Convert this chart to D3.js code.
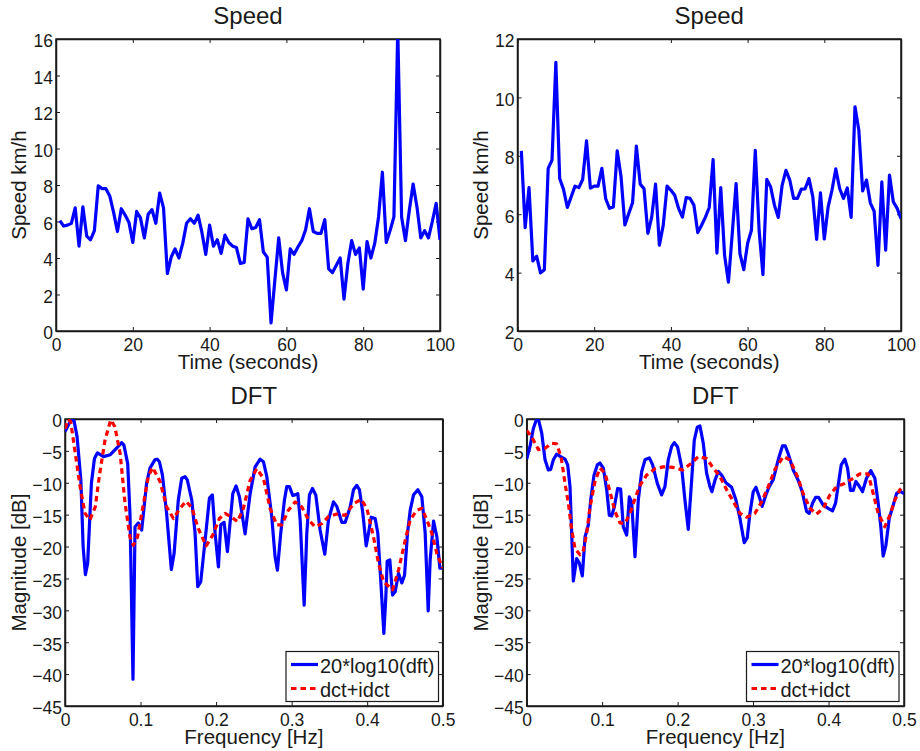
<!DOCTYPE html>
<html>
<head>
<meta charset="utf-8">
<script src="https://cdn.jsdelivr.net/npm/d3@7"></script>
<style>
html,body{margin:0;padding:0;background:#fff;}
svg{display:block;}
text{font-family:"Liberation Sans",Arial,sans-serif;fill:#1a1a1a;}
</style>
</head>
<body>
<div id="chart"></div>
<script>
// values

const speedLeft=[6.05,5.75,5.8,5.9,6.75,4.65,6.8,5.2,5.0,5.5,7.95,7.8,7.8,7.4,6.5,5.45,6.7,6.35,5.95,4.85,
6.55,6.2,5.1,6.4,6.65,5.9,7.55,6.75,3.15,4.05,4.5,4.0,4.8,5.9,6.15,5.9,6.35,5.4,4.2,5.8,
4.65,5.0,4.25,5.25,4.85,4.65,4.57,3.7,3.75,6.15,5.6,5.67,6.1,4.33,4.05,0.45,2.8,5.1,3.2,2.25,
4.5,4.2,4.6,4.95,5.55,6.7,5.45,5.35,5.35,6.1,3.4,3.2,3.6,4.0,1.75,3.7,4.95,4.2,4.55,2.3,
4.9,4.0,4.8,6.25,8.7,4.85,5.5,6.25,16.5,6.25,4.95,6.6,8.05,6.8,5.1,5.5,5.1,6.0,7.0,5.0];

const speedRight=[8.17,5.54,6.91,4.4,4.56,3.99,4.1,7.57,7.85,11.2,7.22,6.85,6.23,6.6,6.96,6.91,7.19,8.51,6.89,6.96,
6.96,7.57,6.53,6.2,6.25,8.17,7.28,5.63,6.02,6.39,8.33,7.03,6.87,5.34,5.9,7.03,4.94,5.62,6.96,6.82,
6.65,6.2,5.9,6.57,6.54,6.31,5.37,5.62,5.9,6.23,7.87,4.67,6.91,4.59,3.67,5.34,7.05,4.65,4.1,5.0,
5.45,8.19,5.45,3.93,7.19,6.94,6.31,5.89,6.99,7.5,7.17,6.54,6.54,6.86,6.87,7.22,6.6,5.14,6.73,5.15,
6.25,6.82,7.55,6.88,6.54,6.9,5.89,9.68,8.88,6.8,7.17,6.39,6.1,4.25,7.11,4.77,7.34,6.42,6.2,5.85];

const dftLeft=[[0,-2],[.005,-.8],[.01,0],[.012,-.3],[.016,-2.8],[.021,-9.6],[.024,-20],[.027,-24.4],[.03,-22.6],[.035,-10],
[.039,-6.2],[.043,-5.3],[.051,-5.9],[.06,-5.6],[.068,-4.6],[.075,-3.7],[.078,-4.1],[.083,-7],[.086,-14.8],[.09,-40.8],
[.0927,-16.9],[.097,-16.3],[.1015,-17.4],[.108,-10.1],[.1125,-7.7],[.119,-6.4],[.122,-6.3],[.125,-6.7],[.129,-8.8],[.1345,-14.8],
[.1408,-23.6],[.1444,-21.1],[.15,-12.7],[.1545,-9.3],[.159,-9.05],[.162,-9.6],[.1678,-12.7],[.1722,-17.9],[.1757,-26.3],[.1797,-25.5],
[.1855,-19],[.1912,-12.4],[.1951,-11.9],[.1987,-17.9],[.2031,-23.2],[.2062,-16.6],[.2106,-16.2],[.215,-20.8],[.2221,-11.7],[.2265,-10.5],
[.2309,-12.2],[.2384,-18],[.2451,-11.7],[.2517,-7.5],[.2583,-6.3],[.2627,-6.7],[.2671,-9],[.2737,-15.3],[.2781,-21.6],[.2812,-23.7],
[.2856,-17.9],[.2905,-12.7],[.2936,-10.6],[.2971,-10.6],[.3015,-12],[.3046,-11.9],[.3082,-11.7],[.3113,-15.8],[.3166,-29.2],[.3201,-17.9],
[.3236,-11.9],[.3276,-10.9],[.332,-11.9],[.3377,-17.4],[.3439,-21.2],[.3488,-15.8],[.3554,-13],[.3598,-13.7],[.3664,-16.2],[.3709,-16.2],
[.3775,-13.8],[.3819,-11.1],[.3863,-10.4],[.3898,-11.1],[.3943,-14.8],[.3987,-19.9],[.4018,-17.9],[.4053,-15.4],[.4106,-15.6],[.4141,-17.9],
[.4177,-24.7],[.4221,-33.6],[.4247,-27.9],[.4265,-22.3],[.43,-22.1],[.4336,-27.6],[.4371,-27.1],[.4415,-24.2],[.4459,-25.7],[.4495,-24.5],
[.4534,-17.9],[.457,-14.3],[.4614,-11.9],[.4671,-11.1],[.4724,-12.2],[.4768,-17.9],[.4808,-30.1],[.4834,-22.1],[.4879,-16],[.4923,-18.5],
[.4963,-23.4],[.5,-23.4]];

const idctLeft=[[0,-1.5],[.0044,-.1],[.0075,-.4],[.013,-4.9],[.02,-10.6],[.0265,-14.8],[.033,-15.8],[.04,-13.8],[.046,-8.5],[.053,-3.3],
[.0605,-.15],[.066,-1.2],[.073,-5.4],[.0795,-13.2],[.086,-18.5],[.0905,-19.8],[.096,-18.5],[.104,-13.2],[.1103,-9],[.116,-7.6],
[.1258,-9.8],[.1347,-13.8],[.1435,-15.6],[.1523,-14],[.1603,-12.9],[.1678,-13.9],[.1766,-17.2],[.1868,-19.9],[.1956,-18.2],[.2044,-15.6],
[.2119,-14.8],[.2208,-15.4],[.2283,-16.1],[.2362,-14],[.2451,-9.6],[.2539,-7.8],[.2627,-9.3],[.2715,-14],[.2804,-16.6],[.287,-16.6],
[.2958,-14.3],[.3046,-13],[.3135,-13.8],[.3223,-15.8],[.3311,-16.9],[.34,-16.4],[.3488,-15.3],[.3598,-14.9],[.3709,-15.1],[.3819,-13.3],
[.3921,-12.6],[.3996,-14],[.4084,-18.5],[.415,-22.6],[.4217,-25.5],[.4336,-26.8],[.4415,-23.7],[.4504,-19],[.457,-15.8],[.4658,-14.3],
[.4724,-14],[.479,-15.8],[.4856,-17.9],[.4923,-21.1],[.5,-23.4]];

const dftRight=[[0,-6.3],[.0044,-4.3],[.0088,-1.5],[.0132,0],[.0159,-.2],[.0199,-2.2],[.0243,-6.4],[.0287,-8],[.0318,-7.9],[.0353,-6.4],
[.0397,-5.5],[.045,-5.9],[.0508,-6.3],[.0543,-7.2],[.0574,-10.6],[.0596,-17.9],[.0618,-25.4],[.0662,-21.9],[.0698,-22.6],[.0737,-24.6],
[.0773,-18.5],[.0817,-16.6],[.0848,-12.7],[.0892,-8.8],[.0936,-7.2],[.0971,-6.9],[.1015,-7.7],[.106,-11.1],[.1095,-15.1],[.1126,-15.2],
[.1161,-13.8],[.1205,-10.9],[.1245,-11],[.128,-16.9],[.1325,-18.2],[.136,-12.2],[.1391,-13],[.1435,-21.6],[.1479,-12.7],[.1523,-8.3],
[.1567,-6.4],[.1625,-6.1],[.1669,-7.2],[.1731,-10.1],[.1788,-11.9],[.1832,-10.6],[.1876,-6.4],[.1921,-4.3],[.1956,-3.7],[.2,-4.4],
[.2053,-7.5],[.2097,-12.7],[.2141,-17.3],[.2186,-9.6],[.2221,-3.3],[.226,-1.3],[.2296,-1.1],[.234,-3.8],[.2384,-8.5],[.2428,-10.6],
[.2455,-11.4],[.2495,-9.6],[.2539,-8.2],[.2583,-8.8],[.264,-10],[.2715,-10.7],[.2773,-12.7],[.2826,-15.6],[.2883,-19.4],[.2923,-18.6],
[.2958,-14.8],[.3002,-11.4],[.3038,-10.7],[.3082,-12.2],[.3121,-13.7],[.317,-11.9],[.3214,-10.6],[.3267,-9.5],[.3333,-6.4],[.339,-4.2],
[.3426,-4.2],[.347,-5.6],[.3532,-8],[.3598,-9.6],[.3651,-11.4],[.3709,-14.5],[.3744,-14.8],[.3788,-13.2],[.3828,-12.3],[.3868,-12.3],
[.393,-13.5],[.3996,-14],[.4053,-14.4],[.4093,-13.2],[.4128,-10.4],[.4168,-7.2],[.4216,-6.3],[.4252,-7.7],[.4291,-11.2],[.4327,-11.2],
[.4362,-9.8],[.4406,-10.5],[.445,-11.4],[.4503,-9.3],[.4561,-8.1],[.4614,-9.3],[.4658,-13.2],[.4693,-16.9],[.4724,-21.5],[.476,-19.8],
[.4804,-15.6],[.4857,-13.5],[.4901,-11.7],[.4945,-11.3],[.5,-11.7]];

const idctRight=[[0,-1.8],[.0066,-2.8],[.0155,-4.8],[.0243,-4.6],[.0331,-3.8],[.0397,-3.9],[.0455,-5.9],[.0508,-10.1],[.0552,-13.2],[.0596,-17.4],
[.064,-20.3],[.0706,-21.3],[.0751,-20.6],[.0795,-17.9],[.0839,-13.8],[.0905,-9.8],[.0971,-7.7],[.1038,-8.5],[.1104,-11.4],[.117,-14.5],
[.1236,-16.3],[.1302,-16.4],[.1369,-14.8],[.1435,-12.5],[.1501,-10.4],[.1589,-8.8],[.17,-7.8],[.181,-7.5],[.1943,-7.6],[.2066,-8],
[.2186,-6.9],[.2274,-5.9],[.2384,-6.2],[.2473,-7.7],[.2561,-9],[.265,-11.1],[.2737,-12.9],[.2826,-14.8],[.2914,-15.4],[.3024,-14.8],
[.3113,-13],[.3201,-10.6],[.3289,-7.9],[.34,-5.9],[.3488,-6.4],[.3598,-9.3],[.3664,-11.7],[.3753,-14],[.3841,-14.9],[.393,-14],
[.4018,-11.9],[.4106,-10.6],[.4216,-10.1],[.4327,-9.3],[.4415,-8.6],[.4525,-8.6],[.4592,-11.7],[.4658,-14.8],[.4746,-16.9],[.4812,-15.1],
[.4879,-12.7],[.4945,-11.1],[.5,-10.6]];

const timeTicks=[0,20,40,60,80,100];
const speedLeftTicks=[0,2,4,6,8,10,12,14,16];
const speedRightTicks=[2,4,6,8,10,12];
const freqTicks=[0,.1,.2,.3,.4,.5];
const dbTicks=[-45,-40,-35,-30,-25,-20,-15,-10,-5,0];
const legendLabels=["20*log10(dft)","dct+idct"];

const BLUE="#0000ff";
const RED="#ff0000";
const DARK="#1a1a1a";

const svg=d3.select("#chart").append("svg").attr("width",920).attr("height",751);
let clipCount=0;

function drawPanel(p){
  const x=d3.scaleLinear().domain(p.xDomain).range([p.left,p.right]);
  const y=d3.scaleLinear().domain(p.yDomain).range([p.bottom,p.top]);
  const g=svg.append("g");

  const clipId="clip"+(clipCount++);
  g.append("clipPath").attr("id",clipId).append("rect")
    .attr("x",p.left).attr("y",p.top)
    .attr("width",p.right-p.left).attr("height",p.bottom-p.top);

  // box, inward ticks on all sides like matlab
  g.append("rect")
    .attr("x",p.left).attr("y",p.top)
    .attr("width",p.right-p.left).attr("height",p.bottom-p.top)
    .attr("fill","none").attr("stroke",DARK).attr("stroke-width",1.5);

  const bottomAxis=g.append("g").attr("transform","translate(0,"+p.bottom+")")
    .call(d3.axisBottom(x).tickValues(p.xTicks).tickSizeInner(-4).tickSizeOuter(0).tickFormat(p.xFormat));
  const leftAxis=g.append("g").attr("transform","translate("+p.left+",0)")
    .call(d3.axisLeft(y).tickValues(p.yTicks).tickSizeInner(-4).tickSizeOuter(0).tickFormat(p.yFormat));
  g.append("g").attr("transform","translate(0,"+p.top+")")
    .call(d3.axisTop(x).tickValues(p.xTicks).tickSizeInner(-4).tickSizeOuter(0).tickFormat(""));
  g.append("g").attr("transform","translate("+p.right+",0)")
    .call(d3.axisRight(y).tickValues(p.yTicks).tickSizeInner(-4).tickSizeOuter(0).tickFormat(""));

  g.selectAll(".domain").attr("stroke",DARK).attr("stroke-width",1.5);
  g.selectAll(".tick line").attr("stroke",DARK).attr("stroke-width",1);
  bottomAxis.selectAll("text").attr("y",8).attr("dy","0.71em")
    .style("font-size","17.5px").style("font-family",'"Liberation Sans"').attr("fill",DARK);
  leftAxis.selectAll("text").attr("x",-3).attr("dy","0.45em")
    .style("font-size","17.5px").style("font-family",'"Liberation Sans"').attr("fill",DARK);

  const line=d3.line().x(d=>x(d[0])).y(d=>y(d[1]));
  p.series.forEach(s=>{
    g.append("path")
      .datum(s.data)
      .attr("clip-path","url(#"+clipId+")")
      .attr("d",line)
      .attr("fill","none")
      .attr("stroke",s.color)
      .attr("stroke-width",3.2)
      .attr("stroke-linejoin","round")
      .attr("stroke-dasharray",s.dash||null);
  });

  const cx=(p.left+p.right)/2;
  g.append("text").attr("x",cx).attr("y",p.top-15).attr("text-anchor","middle")
    .style("font-size","24px").text(p.title);
  g.append("text").attr("x",cx).attr("y",p.bottom+p.xLabelGap).attr("text-anchor","middle")
    .style("font-size","20.5px").text(p.xLabel);
  g.append("text")
    .attr("transform","translate("+(p.left-p.yLabelGap)+","+((p.top+p.bottom)/2)+") rotate(-90)")
    .attr("text-anchor","middle")
    .style("font-size","20.5px").text(p.yLabel);

  if(p.legend){
    const lx=p.legend.x, ly=p.legend.y;
    g.append("rect").attr("x",lx).attr("y",ly).attr("width",p.legend.w).attr("height",50)
      .attr("fill","#fff").attr("stroke",DARK).attr("stroke-width",1.2);
    p.series.forEach((s,i)=>{
      const ry=ly+13+i*24;
      g.append("line").attr("x1",lx+5).attr("x2",lx+32).attr("y1",ry).attr("y2",ry)
        .attr("stroke",s.color).attr("stroke-width",3.2).attr("stroke-dasharray",s.dash||null);
      g.append("text").attr("x",lx+34).attr("y",ry+8)
        .style("font-size","20px").text(legendLabels[i]);
    });
  }
}

const toPairs=v=>v.map((d,i)=>[i+1,d]);
const dbFormat=d=>d===0?"0":"\u2212"+Math.abs(d);
const freqFormat=d=>d===0?"0":String(d);

drawPanel({left:56,right:440,top:39,bottom:331,xDomain:[0,100],yDomain:[0,16],
  xTicks:timeTicks,yTicks:speedLeftTicks,title:"Speed",xLabel:"Time (seconds)",yLabel:"Speed km/h",
  xLabelGap:38,yLabelGap:30,series:[{data:toPairs(speedLeft),color:BLUE}]});

drawPanel({left:517.5,right:901,top:39,bottom:331,xDomain:[0,100],yDomain:[2,12],
  xTicks:timeTicks,yTicks:speedRightTicks,title:"Speed",xLabel:"Time (seconds)",yLabel:"Speed km/h",
  xLabelGap:38,yLabelGap:30,series:[{data:toPairs(speedRight),color:BLUE}]});

drawPanel({left:65,right:442.7,top:419,bottom:706,xDomain:[0,.5],yDomain:[-45,0],
  xTicks:freqTicks,yTicks:dbTicks,xFormat:freqFormat,yFormat:dbFormat,title:"DFT",xLabel:"Frequency [Hz]",yLabel:"Magnitude [dB]",
  xLabelGap:38,yLabelGap:39,
  series:[{data:dftLeft,color:BLUE},{data:idctLeft,color:RED,dash:"5.5,4"}],
  legend:{x:286,y:651.5,w:152.5}});

drawPanel({left:526.7,right:904,top:419,bottom:706,xDomain:[0,.5],yDomain:[-45,0],
  xTicks:freqTicks,yTicks:dbTicks,xFormat:freqFormat,yFormat:dbFormat,title:"DFT",xLabel:"Frequency [Hz]",yLabel:"Magnitude [dB]",
  xLabelGap:38,yLabelGap:39,
  series:[{data:dftRight,color:BLUE},{data:idctRight,color:RED,dash:"5.5,4"}],
  legend:{x:746.5,y:651.5,w:152.5}});
</script>
</body>
</html>
